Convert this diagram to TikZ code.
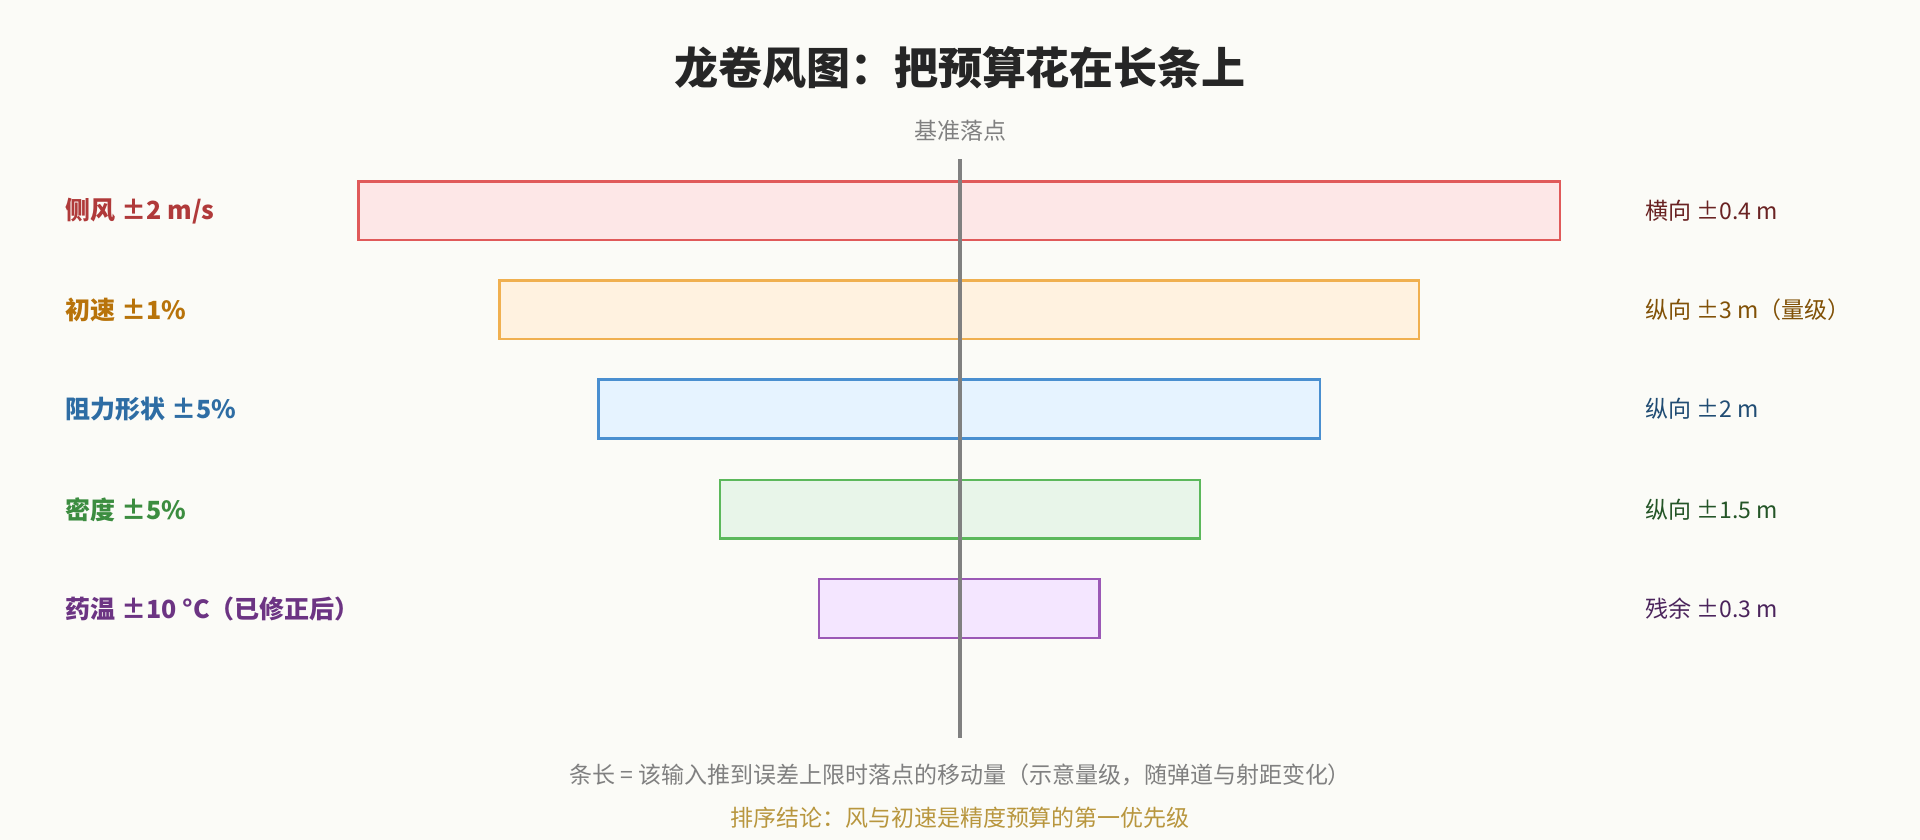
\documentclass[tikz,border=0pt]{standalone}
\usepackage{fontspec}
\setmainfont{Noto Sans CJK SC}
\usetikzlibrary{positioning}
\definecolor{bgc}{HTML}{FBFBF7}
\definecolor{redS}{HTML}{E05A5A}\definecolor{redF}{HTML}{FDE7E7}\definecolor{redT}{HTML}{B03A3A}
\definecolor{orS}{HTML}{F0B050}\definecolor{orF}{HTML}{FFF2E0}\definecolor{orT}{HTML}{B8730A}
\definecolor{blS}{HTML}{4A8FD0}\definecolor{blF}{HTML}{E6F3FF}\definecolor{blT}{HTML}{2E6DA4}
\definecolor{grS}{HTML}{5CB85C}\definecolor{grF}{HTML}{E8F5E9}\definecolor{grT}{HTML}{3C8D40}
\definecolor{puS}{HTML}{9B59B6}\definecolor{puF}{HTML}{F4E6FF}\definecolor{puT}{HTML}{6C3483}
\definecolor{goldT}{HTML}{B8963E}
\tikzset{
  bar/.style={draw, line width=1.3pt, inner sep=0pt, minimum height=48*0.6123pt},
  lab/.style={anchor=west, font=\fontsize{12.5}{14}\selectfont\bfseries},
  val/.style={anchor=west, font=\fontsize{11.5}{14}\selectfont},
}
\begin{document}
\begin{tikzpicture}[x=0.6123pt, y=-0.6123pt]
        \fill[bgc] (0,0) rectangle (1568,686);
        \path (784, 55)  node[font=\fontsize{22}{26}\selectfont\bfseries, text=black!85](title) {龙卷风图：把预算花在长条上};
        \path (784, 107) node[font=\fontsize{11.5}{14}\selectfont, text=black!50](ref) {基准落点};

        \path (783.5, 172) node[bar, draw=redS, fill=redF, minimum width=981*0.6123pt](b1) {};
        \path (783.5, 253) node[bar, draw=orS, fill=orF, minimum width=751*0.6123pt](b2) {};
        \path (783.5, 334) node[bar, draw=blS, fill=blF, minimum width=589*0.6123pt](b3) {};
        \path (784, 416)   node[bar, draw=grS, fill=grF, minimum width=392*0.6123pt](b4) {};
        \path (783.5, 497) node[bar, draw=puS, fill=puF, minimum width=229*0.6123pt](b5) {};

        \coordinate (top) at (784, 130);
        \coordinate (bot) at (784, 603);
        \draw[black!50, line width=1.6pt] (top) -- (bot);

        \path (48, 172) node[lab, text=redT](l1) {侧风 ±2 m/s};
        \path (48, 253) node[lab, text=orT](l2) {初速 ±1\%};
        \path (48, 334) node[lab, text=blT](l3) {阻力形状 ±5\%};
        \path (48, 416) node[lab, text=grT](l4) {密度 ±5\%};
        \path (48, 497) node[lab, text=puT](l5) {药温 ±10 °C（已修正后）};

        \path (1338, 172) node[val, text=redT!60!black](v1) {横向 ±0.4 m};
        \path (1338, 253) node[val, text=orT!70!black](v2) {纵向 ±3 m（量级）};
        \path (1338, 334) node[val, text=blT!70!black](v3) {纵向 ±2 m};
        \path (1338, 416) node[val, text=grT!60!black](v4) {纵向 ±1.5 m};
        \path (1338, 497) node[val, text=puT!70!black](v5) {残余 ±0.3 m};

        \path (784, 633) node[font=\fontsize{11.5}{14}\selectfont, text=black!50](note) {条长 = 该输入推到误差上限时落点的移动量（示意量级，随弹道与射距变化）};
        \path (784, 668) node[font=\fontsize{11.5}{14}\selectfont, text=goldT](concl) {排序结论：风与初速是精度预算的第一优先级};
\end{tikzpicture}
\end{document}
